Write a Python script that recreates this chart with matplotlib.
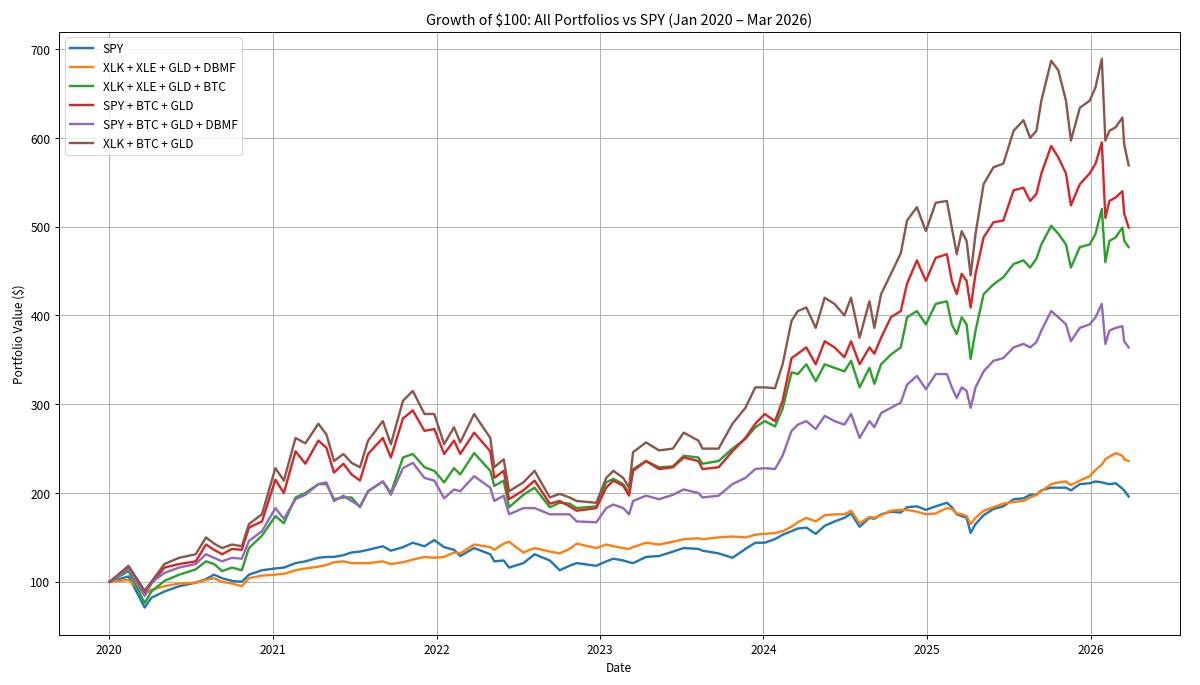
import matplotlib
matplotlib.use("Agg")
import matplotlib.pyplot as plt
import matplotlib.dates as mdates
import pandas as pd

plt.rcParams['font.family'] = ['Noto Sans CJK SC', 'DejaVu Sans']

dates = [
    "2020-01-02", "2020-02-13", "2020-03-20", "2020-04-04", "2020-05-03", "2020-06-05",
    "2020-07-12", "2020-08-04", "2020-08-22", "2020-09-09", "2020-10-01", "2020-10-23",
    "2020-11-08", "2020-12-07", "2021-01-06", "2021-01-25", "2021-02-20", "2021-03-14",
    "2021-04-12", "2021-04-30", "2021-05-17", "2021-06-07", "2021-06-25", "2021-07-14",
    "2021-08-01", "2021-09-03", "2021-09-21", "2021-10-18", "2021-11-09", "2021-12-05",
    "2021-12-27", "2022-01-18", "2022-02-09", "2022-02-23", "2022-03-26", "2022-05-01",
    "2022-05-10", "2022-05-31", "2022-06-12", "2022-07-14", "2022-08-08", "2022-09-11",
    "2022-10-03", "2022-10-25", "2022-11-10", "2022-12-24", "2023-01-15", "2023-01-31",
    "2023-02-22", "2023-03-07", "2023-03-16", "2023-04-14", "2023-05-13", "2023-06-13",
    "2023-07-07", "2023-08-09", "2023-08-18", "2023-09-23", "2023-10-24", "2023-11-22",
    "2023-12-14", "2024-01-04", "2024-01-27", "2024-02-13", "2024-03-04", "2024-03-18",
    "2024-04-06", "2024-04-27", "2024-05-17", "2024-06-08", "2024-06-30", "2024-07-15",
    "2024-08-03", "2024-08-25", "2024-09-05", "2024-09-20", "2024-10-12", "2024-11-03",
    "2024-11-17", "2024-12-09", "2024-12-29", "2025-01-20", "2025-02-14", "2025-02-25",
    "2025-03-08", "2025-03-19", "2025-03-30", "2025-04-08", "2025-04-19", "2025-05-07",
    "2025-05-29", "2025-06-20", "2025-07-13", "2025-08-04", "2025-08-19", "2025-09-02",
    "2025-09-13", "2025-10-05", "2025-10-21", "2025-11-07", "2025-11-18", "2025-12-08",
    "2025-12-30", "2026-01-12", "2026-01-26", "2026-02-03", "2026-02-12", "2026-02-26",
    "2026-03-13", "2026-03-17", "2026-03-27",
]

spy = [
    100, 106, 71, 82, 89, 95, 99, 103, 108, 104, 101, 100, 108, 113, 115, 116, 121, 123,
    127, 128, 128, 130, 133, 134, 136, 140, 135, 139, 144, 140, 147, 139, 136, 129, 138, 131,
    123, 124, 116, 121, 131, 124, 113, 118, 121, 118, 123, 126, 124, 122, 121, 128, 129, 134,
    138, 137, 135, 132, 127, 137, 144, 144, 148, 153, 157, 160, 161, 154, 163, 168, 172, 177,
    162, 172, 171, 176, 179, 178, 184, 185, 181, 185, 189, 184, 176, 174, 172, 155, 165, 175,
    182, 185, 193, 194, 198, 198, 203, 206, 206, 206, 203, 210, 211, 213, 212, 211, 210, 211,
    205, 203, 196,
]

xlk_xle_gld_dbmf = [
    100, 102, 86, 91, 95, 98, 99, 102, 104, 100, 98, 95, 104, 107, 108, 109, 113, 115,
    117, 119, 122, 123, 121, 121, 121, 123, 120, 122, 125, 128, 127, 128, 133, 132, 142, 139,
    136, 143, 145, 133, 138, 134, 132, 137, 143, 138, 142, 140, 138, 137, 139, 144, 142, 145,
    148, 149, 148, 150, 151, 150, 153, 154, 155, 157, 162, 167, 172, 168, 175, 176, 176, 180,
    166, 173, 172, 175, 180, 181, 181, 179, 176, 177, 183, 182, 177, 176, 174, 165, 172, 180,
    184, 188, 190, 191, 195, 198, 202, 210, 212, 213, 209, 214, 219, 226, 232, 238, 241, 245,
    242, 238, 236,
]

xlk_xle_gld_btc = [
    100, 112, 76, 89, 101, 108, 114, 123, 120, 112, 116, 113, 138, 152, 174, 166, 195, 200,
    210, 210, 193, 195, 195, 184, 202, 213, 200, 240, 244, 229, 225, 212, 228, 221, 245, 225,
    208, 214, 184, 198, 206, 184, 189, 188, 183, 185, 212, 216, 210, 200, 227, 236, 229, 230,
    242, 240, 233, 236, 250, 261, 274, 281, 275, 295, 336, 334, 345, 326, 345, 341, 337, 349,
    319, 341, 323, 345, 356, 364, 398, 405, 390, 413, 416, 390, 379, 398, 390, 351, 383, 424,
    435, 443, 458, 462, 454, 464, 480, 501, 492, 480, 454, 477, 480, 492, 520, 460, 484, 488,
    499, 484, 477,
]

spy_btc_gld = [
    100, 116, 86, 98, 116, 120, 123, 142, 136, 131, 137, 136, 161, 168, 215, 200, 247, 233,
    259, 251, 223, 233, 221, 214, 244, 262, 240, 284, 293, 270, 272, 244, 259, 244, 268, 247,
    217, 225, 193, 203, 214, 188, 191, 185, 180, 183, 206, 214, 208, 197, 225, 236, 227, 229,
    240, 236, 227, 229, 247, 262, 278, 289, 281, 304, 352, 357, 364, 345, 371, 364, 353, 371,
    345, 364, 357, 375, 398, 405, 436, 462, 439, 465, 469, 439, 424, 447, 439, 409, 447, 488,
    505, 507, 541, 544, 529, 537, 560, 591, 578, 560, 524, 548, 560, 571, 595, 510, 529, 533,
    540, 515, 499,
]

spy_btc_gld_dbmf = [
    100, 114, 84, 99, 110, 116, 120, 131, 127, 123, 127, 126, 146, 157, 183, 171, 193, 198,
    210, 212, 191, 197, 191, 185, 202, 213, 198, 228, 234, 217, 214, 194, 204, 202, 219, 206,
    191, 197, 176, 183, 183, 176, 176, 176, 168, 167, 183, 187, 183, 176, 191, 197, 193, 198,
    204, 200, 195, 197, 210, 217, 227, 228, 227, 242, 270, 277, 281, 272, 287, 281, 277, 289,
    262, 281, 274, 290, 296, 302, 322, 332, 317, 334, 334, 319, 307, 319, 315, 296, 319, 337,
    349, 352, 364, 368, 364, 370, 383, 405, 398, 390, 371, 386, 390, 398, 413, 368, 383, 386,
    388, 371, 364,
]

xlk_btc_gld = [
    100, 118, 90, 100, 120, 127, 131, 150, 143, 138, 142, 140, 165, 176, 228, 214, 262, 256,
    278, 266, 236, 244, 234, 229, 259, 281, 255, 304, 315, 289, 289, 255, 274, 257, 289, 262,
    229, 238, 202, 212, 225, 195, 199, 195, 191, 189, 217, 225, 217, 206, 246, 257, 248, 250,
    268, 259, 250, 250, 278, 296, 319, 319, 318, 345, 394, 405, 409, 386, 420, 413, 400, 420,
    375, 416, 386, 424, 447, 470, 507, 522, 495, 527, 529, 499, 469, 495, 484, 445, 492, 548,
    567, 571, 608, 620, 600, 608, 642, 687, 676, 642, 597, 634, 642, 657, 689, 597, 608, 612,
    623, 593, 569,
]

labels = ["SPY", "XLK + XLE + GLD + DBMF", "XLK + XLE + GLD + BTC",
          "SPY + BTC + GLD", "SPY + BTC + GLD + DBMF", "XLK + BTC + GLD"]
series = [spy, xlk_xle_gld_dbmf, xlk_xle_gld_btc, spy_btc_gld, spy_btc_gld_dbmf, xlk_btc_gld]

x = pd.to_datetime(dates)

fig, ax = plt.subplots(figsize=(14, 8.0), dpi=1200 / 14)
fig.subplots_adjust(left=0.049, right=0.983, top=0.953, bottom=0.073)

for lab, vals in zip(labels, series):
    ax.plot(x, vals, label=lab, linewidth=2)

ax.set_title("Growth of $100: All Portfolios vs SPY (Jan 2020 \u2013 Mar 2026)")
ax.set_xlabel("Date")
ax.set_ylabel("Portfolio Value ($)")
ax.xaxis.set_major_locator(mdates.YearLocator())
ax.xaxis.set_major_formatter(mdates.DateFormatter("%Y"))
ax.grid(True)
ax.legend(loc="upper left")

fig.savefig("out.png", dpi=1200 / 14)
